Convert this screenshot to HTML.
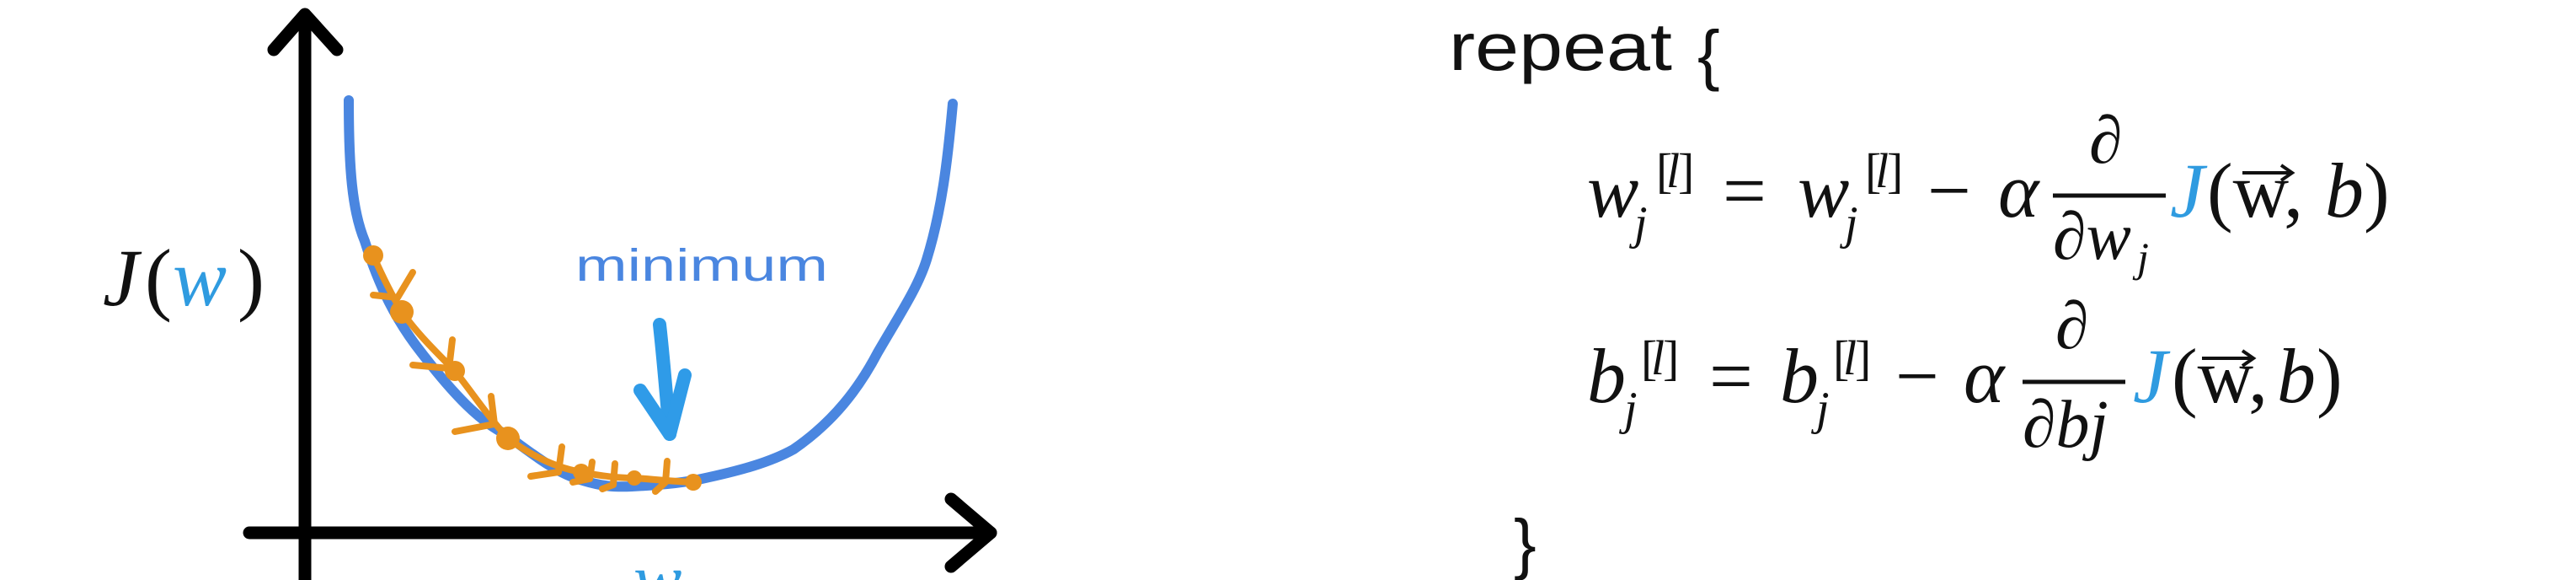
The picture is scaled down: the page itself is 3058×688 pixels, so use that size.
<!DOCTYPE html>
<html><head><meta charset="utf-8"><style>
html,body{margin:0;padding:0;background:#fff;overflow:hidden;width:3058px;height:688px;}
svg{display:block}
.m{font-family:"Liberation Serif",serif;font-style:italic;fill:#111;}
.u{font-family:"Liberation Serif",serif;fill:#111;}
.s{font-family:"Liberation Sans",sans-serif;fill:#111;}
</style></head><body>
<svg width="3058" height="688" viewBox="0 0 3058 688" xmlns="http://www.w3.org/2000/svg">
<rect width="3058" height="688" fill="#fff"/>
<!-- axes -->
<g stroke="#000" stroke-width="15" fill="none" stroke-linecap="round" stroke-linejoin="round">
<line x1="362" y1="20" x2="362" y2="688"/>
<polyline points="325,59 362,17 400,59"/>
<line x1="296" y1="632" x2="1176" y2="632"/>
<polyline points="1129,592 1176,632 1129,672"/>
</g>
<!-- blue curve -->
<path d="M414,119 C414,200 418,250 433,286 C450,340 470,380 500,418 C540,470 570,500 600,515 C640,545 665,563 692,570 C715,577 730,578 750,577 C790,575 815,572 833,568 C880,558 915,548 942,533 C990,500 1020,460 1042,418 C1070,370 1090,340 1100,308 C1118,250 1125,190 1131,123" stroke="#4a86e0" stroke-width="12" fill="none" stroke-linecap="round"/>
<!-- orange path -->
<g stroke="#e8921e" stroke-width="8" fill="none" stroke-linecap="round" stroke-linejoin="round">
<path d="M443,303 C455,330 465,350 477,370 C495,395 515,415 540,440 C560,465 580,495 603,520 C630,540 660,555 690,560 C715,565 735,567 753,567 C780,569 800,571 823,572"/>
<polyline points="490,323 472,353 443,350"/>
<polyline points="537,403 533,437 490,433"/>
<polyline points="583,470 587,503 540,512"/>
<polyline points="667,530 663,560 630,565"/>
<polyline points="703,548 700,568 680,572"/>
<polyline points="730,550 728,575 715,580"/>
<polyline points="792,547 790,572 778,583"/>
</g>
<g fill="#e8921e">
<circle cx="443" cy="303" r="12"/><circle cx="477" cy="370" r="14"/><circle cx="540" cy="440" r="12"/>
<circle cx="603" cy="520" r="14"/><circle cx="690" cy="560" r="10"/><circle cx="753" cy="567" r="9"/><circle cx="823" cy="572" r="10"/>
</g>
<!-- minimum -->
<text x="683" y="333" font-family="Liberation Sans, sans-serif" font-size="54" fill="#4a86e0" textLength="300" lengthAdjust="spacingAndGlyphs">minimum</text>
<g stroke="#2f9be8" stroke-width="16" fill="none" stroke-linecap="round" stroke-linejoin="round">
<path d="M783,385 C788,430 792,480 795,515"/>
<polyline points="760,463 795,515 813,445"/>
</g>
<!-- J(w) -->
<text x="122" y="362" class="m" font-size="96">J</text>
<text x="172" y="362" class="u" font-size="96">(</text>
<text x="205" y="362" class="m" font-size="96" style="fill:#2f9be0">w</text>
<text x="282" y="362" class="u" font-size="96">)</text>
<text x="752" y="716" class="m" font-size="86" style="fill:#2f9be0">w</text>
<!-- right -->
<text x="1720" y="83" class="s" font-size="80" textLength="265" lengthAdjust="spacingAndGlyphs">repeat</text>
<text x="2015" y="92" class="s" font-size="80">{</text>
<text x="1797" y="672" class="s" font-size="80">}</text>
<!-- line 1 -->
<text x="1884" y="257" class="m" font-size="92">w</text>
<text x="1966" y="222" class="u" font-size="58">[</text><text x="1978" y="222" class="m" font-size="58">l</text><text x="1992" y="222" class="u" font-size="58">]</text>
<text x="1940" y="283" class="m" font-size="56">j</text>
<text x="2045" y="257" class="u" font-size="92">=</text>
<text x="2134" y="257" class="m" font-size="92">w</text>
<text x="2214" y="222" class="u" font-size="58">[</text><text x="2226" y="222" class="m" font-size="58">l</text><text x="2240" y="222" class="u" font-size="58">]</text>
<text x="2190" y="283" class="m" font-size="56">j</text>
<text x="2288" y="257" class="u" font-size="92">−</text>
<text x="2372" y="257" class="m" font-size="92">α</text>
<line x1="2437" y1="232" x2="2571" y2="232" stroke="#111" stroke-width="5"/>
<text x="2480" y="193" class="m" font-size="80">∂</text>
<text x="2437" y="307" class="m" font-size="80">∂w</text>
<text x="2537" y="322" class="m" font-size="50">j</text>
<text x="2576" y="257" class="m" font-size="92" style="fill:#2f9be0">J</text>
<text x="2620" y="257" class="u" font-size="92">(w,</text>
<line x1="2662" y1="205" x2="2720" y2="205" stroke="#111" stroke-width="4"/>
<polyline points="2708,196 2721,205 2708,214" stroke="#111" stroke-width="4" fill="none"/>
<text x="2760" y="257" class="m" font-size="92">b</text>
<text x="2806" y="257" class="u" font-size="92">)</text>
<!-- line 2 -->
<text x="1884" y="477" class="m" font-size="92">b</text>
<text x="1948" y="444" class="u" font-size="58">[</text><text x="1960" y="444" class="m" font-size="58">l</text><text x="1974" y="444" class="u" font-size="58">]</text>
<text x="1928" y="503" class="m" font-size="56">j</text>
<text x="2029" y="477" class="u" font-size="92">=</text>
<text x="2113" y="477" class="m" font-size="92">b</text>
<text x="2176" y="444" class="u" font-size="58">[</text><text x="2188" y="444" class="m" font-size="58">l</text><text x="2202" y="444" class="u" font-size="58">]</text>
<text x="2156" y="503" class="m" font-size="56">j</text>
<text x="2250" y="477" class="u" font-size="92">−</text>
<text x="2331" y="477" class="m" font-size="92">α</text>
<line x1="2401" y1="453" x2="2523" y2="453" stroke="#111" stroke-width="5"/>
<text x="2440" y="413" class="m" font-size="80">∂</text>
<text x="2401" y="530" class="m" font-size="80">∂bj</text>
<text x="2532" y="477" class="m" font-size="92" style="fill:#2f9be0">J</text>
<text x="2578" y="477" class="u" font-size="92">(w,</text>
<line x1="2614" y1="425" x2="2674" y2="425" stroke="#111" stroke-width="4"/>
<polyline points="2662,416 2675,425 2662,434" stroke="#111" stroke-width="4" fill="none"/>
<text x="2703" y="477" class="m" font-size="92">b</text>
<text x="2750" y="477" class="u" font-size="92">)</text>
</svg>
</body></html>
